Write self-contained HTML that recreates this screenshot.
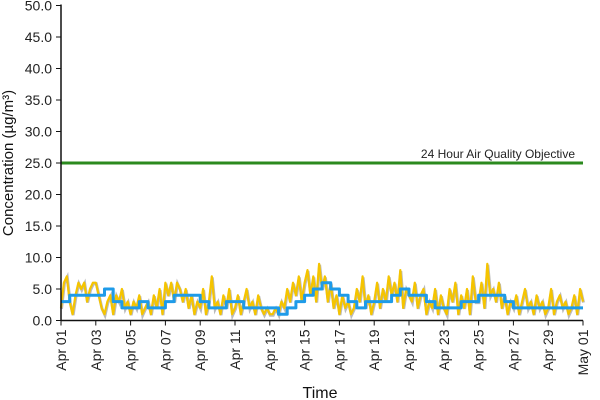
<!DOCTYPE html>
<html><head><meta charset="utf-8"><style>
body{margin:0;background:#fff}
svg{display:block;font-family:"Liberation Sans",sans-serif}
</style></head><body>
<svg id="chart" width="600" height="400" viewBox="0 0 600 400"></svg>
<script>
const dayLabels=["Apr 01","Apr 03","Apr 05","Apr 07","Apr 09","Apr 11","Apr 13","Apr 15","Apr 17","Apr 19","Apr 21","Apr 23","Apr 25","Apr 27","Apr 29","May 01"];
const yTicks=[0,5,10,15,20,25,30,35,40,45,50];
const objectiveValue=25;
const hourlyValues=[2,6,7,3,1,4, 6,5,6,3,5,6, 6,4,2,1,3,4, 1,4,3,5,2,3, 1,3,2,4,1,2, 3,1,4,2,5,1, 6,4,6,3,6,5, 3,5,2,4,1,3, 2,5,1,3,7,2, 3,1,4,2,5,1, 2,4,1,3,5,2, 3,1,4,2,1,2, 1,1,2,1,3,2, 5,3,6,4,7,3, 6,8,4,7,3,9, 5,7,3,6,2,4, 1,4,2,3,1,2, 5,3,7,2,4,1, 3,6,2,5,3,7, 4,6,3,8,2,5, 4,3,6,2,4,5, 1,3,2,5,1,4, 2,1,5,3,6,1, 4,2,5,1,7,3, 3,6,2,9,4,5, 3,6,2,4,1,3, 2,4,1,3,5,2, 3,1,4,2,3,1, 2,5,1,3,4,2, 3,1,2,4,1,5, 3];
const rollingValues=[3,4,4,4,4,5,3,2,2,3,2,2,3,4,4,4,3,2,2,3,3,2,2,2,2,1,2,3,4,5,6,5,4,3,2,3,3,3,4,5,4,4,3,2,2,2,3,3,4,4,4,3,2,2,2,2,2,2,2,2,2];

const svg=document.getElementById('chart');
const NS='http://www.w3.org/2000/svg';
const X0=61,X1=583,Y0=320.5,Y1=5.5,DAYS=30,YMAX=50;
const xs=d=>X0+(X1-X0)*d/DAYS;
const ys=v=>Y0-(Y0-Y1)*v/YMAX;
function mk(tag,attrs,parent){const e=document.createElementNS(NS,tag);for(const k in attrs)e.setAttribute(k,attrs[k]);(parent||svg).appendChild(e);return e;}

// objective line
const obj=mk('line',{x1:X0,x2:X1,y1:ys(objectiveValue),y2:ys(objectiveValue),stroke:'#2b8a1e','stroke-width':3});


const objT=mk('text',{x:575,y:ys(objectiveValue)-5,'text-anchor':'end','font-size':12,fill:'#222'});
objT.textContent='24 Hour Air Quality Objective';



// hourly series
let pts=hourlyValues.map((v,i)=>xs(i/6)+','+ys(v)).join(' ');
const sh=mk('polyline',{points:pts,fill:'none',stroke:'#bbb','stroke-width':3,transform:'translate(0.5,1)'});


const hl=mk('polyline',{points:pts,fill:'none',stroke:'#f5c400','stroke-width':2.2,'stroke-linejoin':'round'});



// rolling series (stepped)
let rp=[];
rollingValues.forEach((v,i)=>{const d=i/2;rp.push(xs(d)+','+ys(v));if(i<rollingValues.length-1)rp.push(xs(d+0.5)+','+ys(v));});
const rl=mk('polyline',{points:rp.join(' '),fill:'none',stroke:'#1e9be9','stroke-width':3,'stroke-linejoin':'round'});



// axes
const ya=mk('line',{x1:X0,x2:X0,y1:Y1-1,y2:Y0,stroke:'#111','stroke-width':1.5});


const xa=mk('line',{x1:X0,x2:X1,y1:Y0,y2:Y0,stroke:'#111','stroke-width':1.5});



yTicks.forEach(v=>{
  const y=ys(v);
  const t=mk('line',{x1:X0-5,x2:X0,y1:y,y2:y,stroke:'#111','stroke-width':1});
  
  
  const l=mk('text',{x:X0-9,y:y+5,'text-anchor':'end','font-size':14,fill:'#222'});
  l.textContent=v.toFixed(1);
  
  
});
dayLabels.forEach((s,i)=>{
  const x=xs(i*2);
  const t=mk('line',{x1:x,x2:x,y1:Y0,y2:Y0+5,stroke:'#111','stroke-width':1});
  
  
  const l=mk('text',{x:0,y:0,'text-anchor':'end','font-size':14,fill:'#222',transform:`translate(${x+5},${Y0+9}) rotate(-90)`});
  l.textContent=s;
  
  
});
const xt=mk('text',{x:320,y:398,'text-anchor':'middle','font-size':16,fill:'#111'});
xt.textContent='Time';


const yt=mk('text',{x:0,y:0,'text-anchor':'middle','font-size':15,fill:'#111',transform:'translate(13,163) rotate(-90)'});
yt.textContent='Concentration (µg/m³)';


</script>
</body></html>
